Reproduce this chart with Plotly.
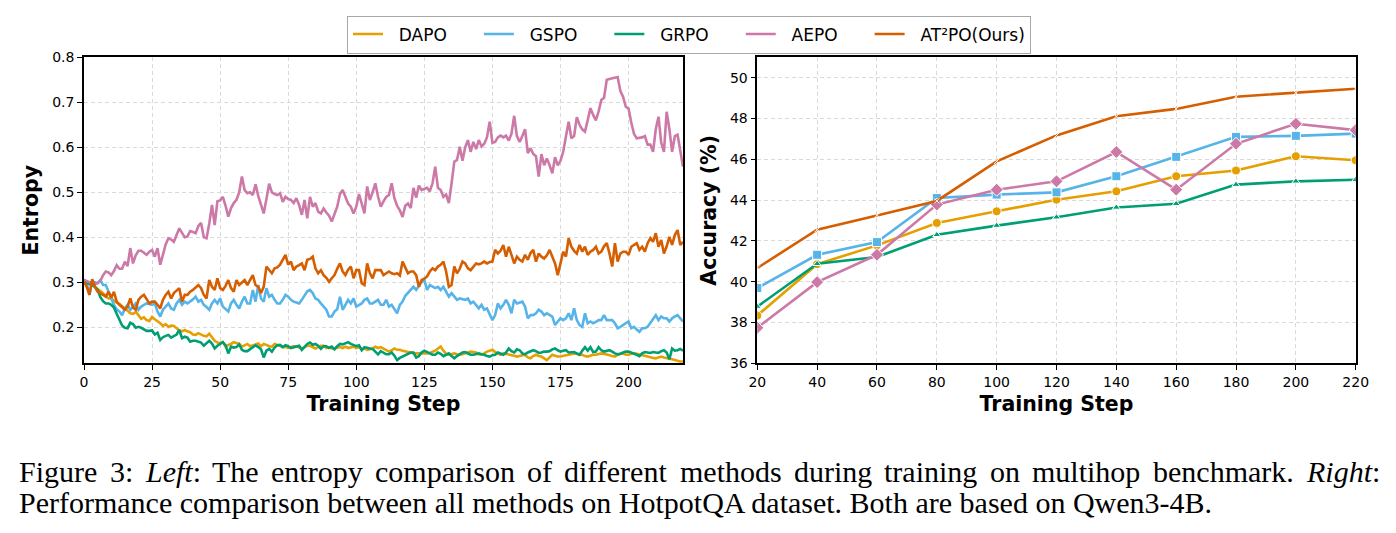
import plotly.graph_objects as go

methods = ["DAPO", "GSPO", "GRPO", "AEPO", "AT²PO(Ours)"]
colors = ["#E69F00", "#56B4E9", "#009E73", "#CC79A7", "#D55E00"]

steps = list(range(0, 221))

entropy_dapo = [
0.301,0.296,0.298,0.300,0.290,0.284,0.281,0.276,0.270,0.264,
0.264,0.259,0.255,0.252,0.246,0.242,0.237,0.231,0.230,0.234,
0.227,0.219,0.222,0.216,0.214,0.223,0.218,0.214,0.209,0.203,
0.207,0.201,0.204,0.203,0.198,0.193,0.191,0.194,0.191,0.189,
0.184,0.183,0.187,0.184,0.181,0.180,0.186,0.178,0.170,0.166,
0.165,0.167,0.157,0.161,0.163,0.167,0.165,0.163,0.157,0.160,
0.163,0.158,0.160,0.161,0.164,0.158,0.163,0.161,0.158,0.157,
0.163,0.161,0.158,0.156,0.157,0.154,0.156,0.158,0.158,0.156,
0.153,0.156,0.159,0.159,0.156,0.153,0.156,0.159,0.159,0.154,
0.156,0.153,0.153,0.155,0.156,0.154,0.157,0.154,0.156,0.157,
0.154,0.156,0.151,0.153,0.150,0.152,0.153,0.157,0.154,0.156,
0.153,0.150,0.146,0.149,0.153,0.150,0.150,0.148,0.147,0.146,
0.144,0.142,0.142,0.141,0.142,0.142,0.142,0.143,0.145,0.148,
0.153,0.157,0.148,0.141,0.139,0.141,0.142,0.140,0.139,0.140,
0.142,0.143,0.146,0.145,0.144,0.140,0.139,0.142,0.146,0.148,
0.150,0.145,0.142,0.139,0.142,0.141,0.139,0.139,0.137,0.135,
0.136,0.138,0.139,0.133,0.131,0.136,0.139,0.136,0.135,0.131,
0.127,0.133,0.139,0.137,0.135,0.135,0.137,0.138,0.139,0.141,
0.142,0.141,0.139,0.139,0.136,0.135,0.137,0.139,0.139,0.141,
0.142,0.141,0.139,0.137,0.136,0.135,0.139,0.141,0.142,0.139,
0.139,0.141,0.142,0.141,0.139,0.138,0.137,0.135,0.133,0.132,
0.131,0.133,0.135,0.133,0.131,0.130,0.129,0.127,0.126,0.124,
0.124]

entropy_gspo = [
0.307,0.298,0.272,0.301,0.300,0.298,0.305,0.294,0.294,0.279,
0.268,0.250,0.240,0.235,0.227,0.242,0.250,0.239,0.245,0.253,
0.239,0.246,0.250,0.253,0.252,0.250,0.253,0.235,0.224,0.239,
0.246,0.253,0.242,0.239,0.253,0.261,0.250,0.257,0.253,0.257,
0.262,0.268,0.257,0.261,0.250,0.245,0.239,0.253,0.261,0.253,
0.264,0.246,0.240,0.235,0.253,0.261,0.250,0.242,0.257,0.268,
0.253,0.253,0.283,0.257,0.294,0.264,0.257,0.287,0.268,0.272,
0.261,0.253,0.253,0.261,0.272,0.268,0.261,0.257,0.255,0.253,
0.261,0.272,0.280,0.283,0.276,0.264,0.261,0.253,0.246,0.239,
0.224,0.224,0.235,0.240,0.268,0.239,0.250,0.261,0.253,0.264,
0.246,0.250,0.253,0.261,0.264,0.253,0.253,0.257,0.261,0.250,
0.250,0.261,0.246,0.250,0.240,0.231,0.250,0.257,0.270,0.276,
0.283,0.290,0.283,0.292,0.301,0.305,0.283,0.294,0.290,0.287,
0.290,0.283,0.290,0.280,0.268,0.276,0.268,0.261,0.264,0.262,
0.261,0.264,0.253,0.257,0.250,0.242,0.250,0.239,0.242,0.230,
0.216,0.227,0.253,0.242,0.250,0.261,0.250,0.231,0.261,0.253,
0.255,0.257,0.246,0.220,0.227,0.227,0.231,0.239,0.235,0.227,
0.231,0.228,0.224,0.205,0.213,0.220,0.216,0.220,0.231,0.216,
0.242,0.216,0.205,0.201,0.231,0.209,0.213,0.209,0.212,0.216,
0.216,0.227,0.216,0.216,0.216,0.209,0.198,0.201,0.205,0.210,
0.213,0.198,0.201,0.195,0.190,0.198,0.198,0.201,0.210,0.216,
0.227,0.216,0.224,0.220,0.220,0.213,0.220,0.224,0.227,0.220,
0.213]

entropy_grpo = [
0.305,0.299,0.296,0.294,0.290,0.284,0.267,0.258,0.253,0.253,
0.250,0.244,0.230,0.216,0.204,0.199,0.198,0.210,0.207,0.199,
0.201,0.199,0.195,0.192,0.192,0.193,0.184,0.188,0.172,0.178,
0.181,0.183,0.177,0.181,0.184,0.194,0.176,0.179,0.177,0.168,
0.170,0.170,0.168,0.166,0.159,0.164,0.170,0.164,0.153,0.159,
0.164,0.167,0.160,0.142,0.157,0.155,0.156,0.162,0.150,0.147,
0.147,0.151,0.156,0.160,0.156,0.151,0.133,0.148,0.152,0.146,
0.155,0.160,0.161,0.156,0.160,0.158,0.154,0.156,0.158,0.159,
0.150,0.156,0.163,0.166,0.161,0.163,0.159,0.152,0.158,0.158,
0.154,0.157,0.151,0.158,0.163,0.162,0.164,0.167,0.163,0.160,
0.158,0.160,0.149,0.156,0.154,0.153,0.152,0.146,0.140,0.147,
0.144,0.140,0.140,0.144,0.137,0.127,0.132,0.135,0.139,0.142,
0.144,0.144,0.133,0.136,0.144,0.148,0.145,0.141,0.139,0.139,
0.144,0.141,0.136,0.139,0.142,0.136,0.131,0.136,0.141,0.144,
0.145,0.142,0.139,0.139,0.141,0.142,0.140,0.139,0.136,0.135,
0.138,0.139,0.144,0.142,0.139,0.144,0.153,0.147,0.144,0.151,
0.149,0.142,0.140,0.144,0.147,0.149,0.147,0.143,0.144,0.146,
0.146,0.147,0.151,0.153,0.149,0.146,0.148,0.149,0.144,0.144,
0.145,0.142,0.139,0.148,0.156,0.148,0.156,0.145,0.146,0.156,
0.149,0.146,0.147,0.149,0.146,0.142,0.140,0.141,0.144,0.146,
0.146,0.144,0.142,0.139,0.136,0.142,0.145,0.144,0.143,0.145,
0.144,0.143,0.147,0.149,0.144,0.129,0.153,0.148,0.149,0.152,
0.148]

entropy_aepo = [
0.305,0.302,0.300,0.300,0.296,0.298,0.303,0.316,0.324,0.322,
0.316,0.325,0.338,0.330,0.330,0.346,0.336,0.376,0.342,0.360,
0.370,0.370,0.366,0.361,0.368,0.372,0.357,0.376,0.339,0.362,
0.384,0.398,0.395,0.390,0.405,0.420,0.410,0.400,0.402,0.414,
0.412,0.409,0.425,0.432,0.400,0.398,0.430,0.472,0.427,0.480,
0.482,0.490,0.470,0.446,0.465,0.476,0.483,0.500,0.535,0.505,
0.498,0.500,0.494,0.518,0.492,0.470,0.453,0.485,0.519,0.500,
0.496,0.494,0.498,0.479,0.490,0.485,0.483,0.476,0.487,0.472,
0.450,0.483,0.442,0.490,0.468,0.476,0.457,0.453,0.464,0.455,
0.448,0.435,0.452,0.468,0.496,0.505,0.490,0.475,0.468,0.453,
0.468,0.496,0.475,0.453,0.513,0.483,0.500,0.520,0.490,0.468,
0.480,0.490,0.494,0.520,0.487,0.470,0.460,0.445,0.470,0.475,
0.465,0.510,0.488,0.515,0.505,0.508,0.510,0.502,0.520,0.557,
0.510,0.505,0.490,0.495,0.476,0.520,0.568,0.572,0.601,0.570,
0.600,0.616,0.590,0.612,0.596,0.616,0.602,0.608,0.622,0.657,
0.610,0.612,0.622,0.626,0.622,0.626,0.615,0.630,0.670,0.625,
0.612,0.625,0.640,0.587,0.598,0.585,0.580,0.535,0.585,0.560,
0.575,0.560,0.542,0.578,0.560,0.570,0.590,0.624,0.657,0.620,
0.625,0.667,0.650,0.640,0.635,0.660,0.687,0.672,0.660,0.680,
0.705,0.710,0.750,0.752,0.753,0.755,0.756,0.725,0.712,0.690,
0.686,0.655,0.630,0.620,0.621,0.622,0.625,0.606,0.606,0.590,
0.640,0.668,0.610,0.590,0.679,0.640,0.590,0.625,0.628,0.590,
0.557]

entropy_at2po = [
0.301,0.290,0.272,0.307,0.290,0.279,0.276,0.272,0.268,0.279,
0.266,0.279,0.257,0.250,0.245,0.239,0.246,0.264,0.244,0.239,
0.261,0.268,0.272,0.261,0.253,0.257,0.257,0.250,0.242,0.261,
0.272,0.279,0.264,0.276,0.282,0.287,0.257,0.272,0.272,0.279,
0.283,0.288,0.294,0.287,0.272,0.264,0.305,0.290,0.283,0.309,
0.287,0.283,0.292,0.305,0.287,0.279,0.305,0.294,0.300,0.305,
0.294,0.305,0.316,0.294,0.290,0.276,0.290,0.335,0.327,0.320,
0.331,0.333,0.339,0.350,0.361,0.339,0.346,0.327,0.335,0.338,
0.342,0.327,0.350,0.352,0.357,0.331,0.320,0.327,0.316,0.310,
0.301,0.309,0.316,0.330,0.342,0.324,0.316,0.328,0.335,0.309,
0.327,0.327,0.298,0.294,0.342,0.320,0.309,0.327,0.327,0.327,
0.316,0.320,0.324,0.320,0.318,0.320,0.315,0.346,0.332,0.320,
0.324,0.324,0.316,0.290,0.305,0.308,0.313,0.324,0.331,0.327,
0.335,0.339,0.346,0.324,0.290,0.294,0.335,0.320,0.330,0.346,
0.342,0.331,0.327,0.335,0.342,0.340,0.342,0.346,0.342,0.345,
0.346,0.372,0.364,0.370,0.383,0.357,0.379,0.361,0.342,0.357,
0.350,0.346,0.361,0.350,0.365,0.372,0.346,0.364,0.357,0.353,
0.360,0.372,0.357,0.342,0.316,0.345,0.368,0.357,0.398,0.379,
0.370,0.364,0.383,0.368,0.379,0.361,0.368,0.372,0.379,0.364,
0.368,0.380,0.387,0.364,0.335,0.387,0.346,0.364,0.368,0.368,
0.361,0.379,0.383,0.387,0.372,0.379,0.368,0.387,0.398,0.390,
0.409,0.379,0.394,0.364,0.380,0.401,0.383,0.405,0.416,0.383,
0.390]

eval_steps = [20, 40, 60, 80, 100, 120, 140, 160, 180, 200, 220]
acc_dapo = [38.34, 40.86, 41.78, 42.88, 43.45, 44.02, 44.43, 45.17, 45.45, 46.15, 45.95]
acc_gspo = [39.69, 41.32, 41.94, 44.10, 44.27, 44.38, 45.17, 46.12, 47.10, 47.15, 47.26]
acc_grpo = [38.78, 40.88, 41.21, 42.30, 42.75, 43.16, 43.64, 43.82, 44.76, 44.92, 45.00]
acc_aepo = [37.74, 39.98, 41.32, 43.78, 44.51, 44.92, 46.36, 44.51, 46.76, 47.74, 47.43]
acc_at2po = [40.67, 42.55, 43.25, 43.96, 45.90, 47.17, 48.11, 48.47, 49.07, 49.26, 49.46]

entropy_series = [entropy_dapo, entropy_gspo, entropy_grpo, entropy_aepo, entropy_at2po]
acc_series = [acc_dapo, acc_gspo, acc_grpo, acc_aepo, acc_at2po]
marker_symbols = ["circle", "square", "triangle-up", "diamond", "x-thin"]
marker_sizes = [9, 9, 7, 10, 5]

# caption (line 1 is justified word by word, Times metrics in em)
caption_words1 = ["Figure", "3:", "<i>Left</i>:", "The", "entropy", "comparison", "of", "different",
                  "methods", "during", "training", "on", "multihop", "benchmark.", "<i>Right</i>:"]
caption_widths1 = [2.611, 0.778, 1.834, 1.555, 3.055, 4.666, 0.833, 3.443,
                   3.389, 2.611, 3.111, 1.000, 3.612, 4.693, 2.445]
caption_line2 = "Performance comparison between all methods on HotpotQA dataset. Both are based on Qwen3-4B."

W, H = 1396, 533
def px(x):
    return x / W
def py(y):
    return 1 - y / H

NBSP = "\u00a0"
legend_lead = [2, 2, 2, 2, 2]
legend_trail = [5, 5, 5, 5, 0]

fig = go.Figure()

for name, col, ys, lp, tp in zip(methods, colors, entropy_series, legend_lead, legend_trail):
    fig.add_trace(go.Scatter(x=steps, y=ys, mode="lines", name=NBSP * lp + name + NBSP * tp,
                             line=dict(color=col, width=2.6),
                             xaxis="x", yaxis="y", showlegend=True))

for name, col, ys, sym, ms in zip(methods, colors, acc_series, marker_symbols, marker_sizes):
    mk = dict(symbol=sym, size=ms, color=col, line=dict(color="white", width=1))
    if sym == "x-thin":
        mk = dict(symbol=sym, size=ms, color="white", line=dict(color="white", width=1))
    fig.add_trace(go.Scatter(x=eval_steps, y=ys, mode="lines+markers", name=name,
                             line=dict(color=col, width=2.6), marker=mk,
                             xaxis="x2", yaxis="y2", showlegend=False))

tickfont = dict(family="DejaVu Sans", size=14, color="black")
titlefont = dict(family="DejaVu Sans", size=20.5, color="black", weight="bold")
grid = dict(showgrid=True, gridcolor="#d9d9d9", griddash="4px,3px", gridwidth=0.8)
axis_common = dict(showline=True, linecolor="black", linewidth=1.5, mirror=True,
                   ticks="outside", ticklen=5, tickwidth=1.2, tickcolor="black",
                   tickfont=tickfont, zeroline=False, **grid)

cap_font = dict(family="Liberation Serif", size=30, color="black")
annotations = []
fs = 30
left, right = 18, 1378
total_words = sum(caption_widths1) * fs
gap = (right - left - total_words) / (len(caption_words1) - 1)
xcur = left
for wtxt, wem in zip(caption_words1, caption_widths1):
    annotations.append(dict(text=wtxt, xref="paper", yref="paper", x=px(xcur), y=py(471),
                            xanchor="left", yanchor="middle", showarrow=False, borderpad=0,
                            font=cap_font))
    xcur += wem * fs + gap
annotations.append(dict(text=caption_line2, xref="paper", yref="paper", x=px(left), y=py(502),
                        xanchor="left", yanchor="middle", showarrow=False, borderpad=0,
                        font=cap_font))

fig.update_layout(
    width=W, height=H,
    margin=dict(l=0, r=0, t=0, b=0, autoexpand=False),
    paper_bgcolor="white", plot_bgcolor="white",
    xaxis=dict(domain=[px(84), px(683)], range=[0, 220], tickvals=[0, 25, 50, 75, 100, 125, 150, 175, 200],
               title=dict(text="<b>Training Step</b>", font=titlefont, standoff=8), anchor="y", **axis_common),
    yaxis=dict(domain=[py(363.3), py(57.3)], range=[0.12, 0.8], tickvals=[0.2, 0.3, 0.4, 0.5, 0.6, 0.7, 0.8],
               tickformat=".1f", title=dict(text="<b>Entropy</b>", font=titlefont, standoff=8), anchor="x", **axis_common),
    xaxis2=dict(domain=[px(757.3), px(1355.7)], range=[20, 220], tickvals=eval_steps,
                title=dict(text="<b>Training Step</b>", font=titlefont, standoff=8), anchor="y2", **axis_common),
    yaxis2=dict(domain=[py(363.3), py(57.3)], range=[36, 51], tickvals=[36, 38, 40, 42, 44, 46, 48, 50],
                title=dict(text="<b>Accuracy (%)</b>", font=titlefont, standoff=8), anchor="x2", **axis_common),
    legend=dict(orientation="h", x=px(347), xanchor="left", y=py(15.5), yanchor="top",
                bgcolor="white", bordercolor="#a8a8a8", borderwidth=1,
                font=dict(family="DejaVu Sans", size=17, color="black"),
                traceorder="normal"),
    annotations=annotations,
)

fig.write_html("out.html",
               post_script="document.body.style.margin='0';document.body.style.padding='0';")
